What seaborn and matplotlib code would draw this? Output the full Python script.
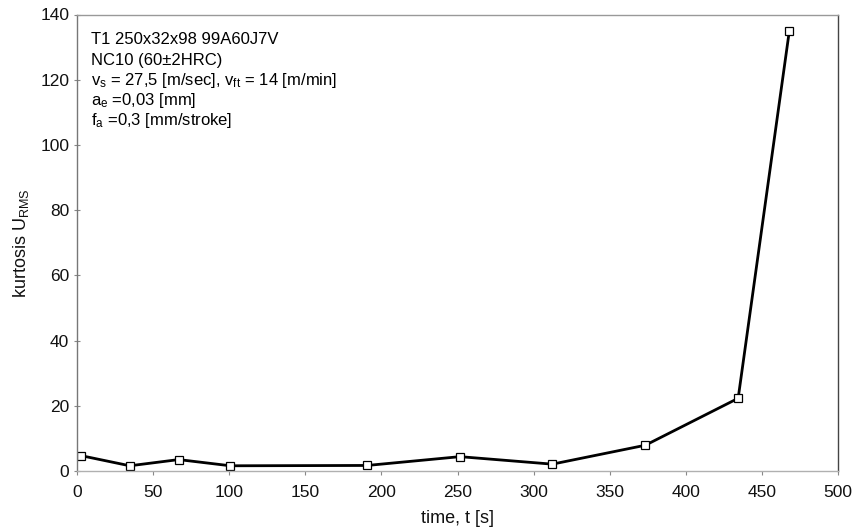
import matplotlib
matplotlib.use("Agg")
import matplotlib.pyplot as plt
import seaborn as sns
import pandas as pd

time_s = [2.8, 34.7, 66.8, 100.8, 190.7, 251.6, 312.3, 373.4, 434.4, 468.0]
kurtosis = [4.7, 1.6, 3.5, 1.6, 1.7, 4.4, 2.1, 7.9, 22.3, 134.9]
x_ticks = [0, 50, 100, 150, 200, 250, 300, 350, 400, 450, 500]
y_ticks = [0, 20, 40, 60, 80, 100, 120, 140]
info_lines = [
    "T1 250x32x98 99A60J7V",
    "NC10 (60\u00b12HRC)",
    "v$_{\\mathrm{s}}$ = 27,5 [m/sec], v$_{\\mathrm{ft}}$ = 14 [m/min]",
    "a$_{\\mathrm{e}}$ =0,03 [mm]",
    "f$_{\\mathrm{a}}$ =0,3 [mm/stroke]",
]

sns.set_style("ticks")
plt.rcParams["font.family"] = ["Liberation Sans", "DejaVu Sans"]
plt.rcParams["mathtext.fontset"] = "custom"
plt.rcParams["mathtext.rm"] = "Liberation Sans"
plt.rcParams["mathtext.it"] = "Liberation Sans:italic"
plt.rcParams["mathtext.default"] = "rm"

df = pd.DataFrame({"time": time_s, "kurtosis": kurtosis})

fig = plt.figure(figsize=(8.57, 5.30), dpi=100)
ax = fig.add_axes([77 / 857, 1 - 471 / 530, (838 - 77) / 857, (471 - 14.5) / 530])

sns.lineplot(data=df, x="time", y="kurtosis", ax=ax, color="black", linewidth=2.0,
             marker="s", markersize=6, markerfacecolor="white",
             markeredgecolor="black", markeredgewidth=0.9)

ax.set_xlim(0, 500)
ax.set_ylim(0, 140)
ax.set_xticks(x_ticks)
ax.set_yticks(y_ticks)
ax.tick_params(axis="both", labelsize=12.5, color="#888888", labelcolor="#111111")
ax.tick_params(axis="y", direction="inout", length=5, pad=3)
ax.tick_params(axis="x", direction="out", length=3, pad=7)

ax.set_xlabel("time, t [s]", fontsize=13, labelpad=7, color="#111111")
ax.set_ylabel("kurtosis U$_{\\mathrm{RMS}}$", fontsize=13, labelpad=7, color="#111111")

for name, c in [("left", "#777777"), ("bottom", "#b0b0b0"), ("top", "#999999"), ("right", "#444444")]:
    ax.spines[name].set_visible(True)
    ax.spines[name].set_color(c)
    ax.spines[name].set_linewidth(1.0)

baselines = [44, 64.5, 85, 105.5, 125.5]
for line, b in zip(info_lines, baselines):
    ax.text(0.018, (471 - b) / 456.5, line, transform=ax.transAxes,
            fontsize=12, va="baseline", ha="left", color="black")

fig.savefig("out.png", dpi=100)
